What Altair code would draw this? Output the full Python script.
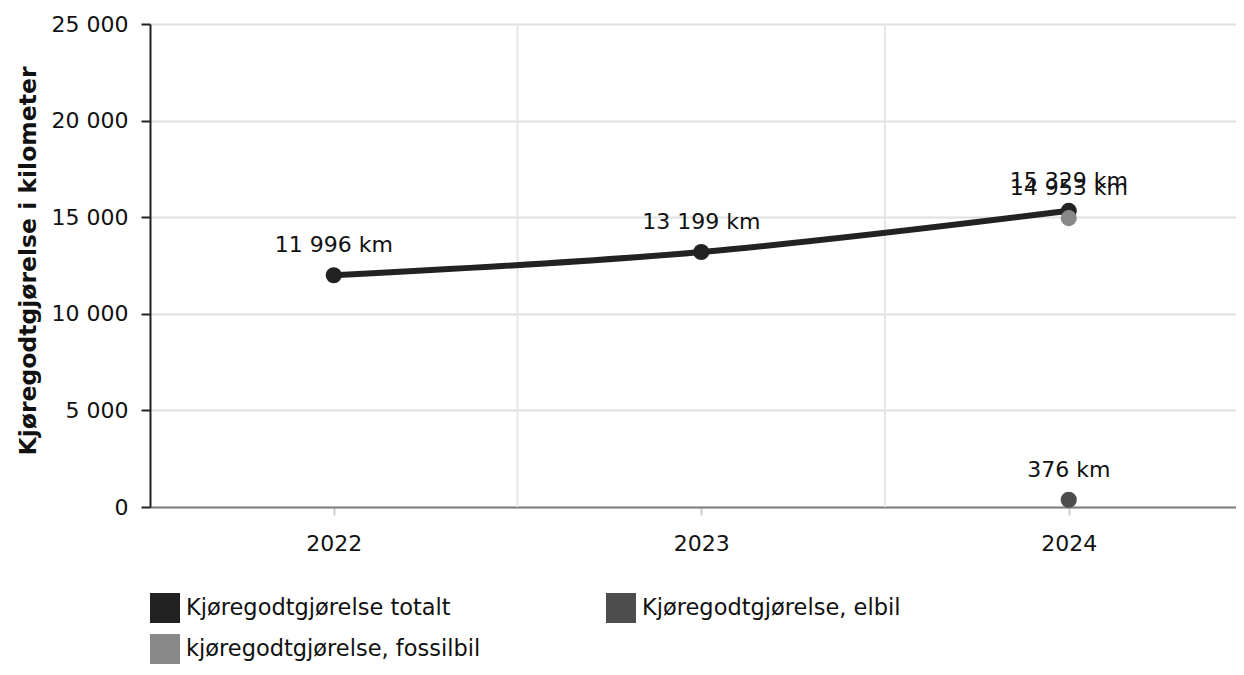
import altair as alt
import pandas as pd

FONT = "DejaVu Sans"

years = [2022, 2023, 2024]
totalt = [11996, 13199, 15329]
elbil_years = [2024]
elbil = [376]
fossil_years = [2024]
fossil = [14953]

series_names = [
    "Kjøregodtgjørelse totalt",
    "Kjøregodtgjørelse, elbil",
    "kjøregodtgjørelse, fossilbil",
]
series_colors = ["#222222", "#4d4d4d", "#888888"]
y_ticks = [0, 5000, 10000, 15000, 20000, 25000]
y_title = "Kjøregodtgjørelse i kilometer"


def km(v):
    return f"{v:,}".replace(",", " ") + " km"


rows = []
for yrs, vals, name in [
    (years, totalt, series_names[0]),
    (elbil_years, elbil, series_names[1]),
    (fossil_years, fossil, series_names[2]),
]:
    for yr, v in zip(yrs, vals):
        rows.append({"year": yr, "value": v, "series": name, "label": km(v)})
df = pd.DataFrame(rows)

grid_df = pd.DataFrame({"x": [(a + b) / 2 for a, b in zip(years[:-1], years[1:])]})

PLOT_W = 1086
PLOT_H = 483
x_scale = alt.Scale(domain=[2021.5, 2021.5 + PLOT_W / 367.5], nice=False, zero=False)
y_scale = alt.Scale(domain=[0, 25000], nice=False)

x_axis = alt.Axis(
    values=years, format="d", grid=False, title=None,
    labelFont=FONT, labelFontSize=22, labelColor="#111111",
    domainColor="#7f7f7f", domainWidth=2,
    tickColor="#cccccc", tickSize=8, tickWidth=2, labelPadding=18,
)
y_axis = alt.Axis(
    values=y_ticks, labelExpr="replace(format(datum.value, ','), ',', ' ')",
    grid=True, gridColor="#e0e0e0", gridWidth=2,
    labelFont=FONT, labelFontSize=22, labelColor="#111111",
    domainColor="#222222", domainWidth=2,
    tickColor="#222222", tickSize=9, tickWidth=2, labelPadding=13,
    title=y_title, titleFont=FONT, titleFontSize=23.5, titleFontWeight="bold",
    titleColor="#111111", titleAngle=-90, titleX=-122, titleY=236.5,
    titleAlign="center", titleBaseline="middle",
)

base = alt.Chart(df)

vgrid = alt.Chart(grid_df).mark_rule(color="#e6e6e6", strokeWidth=2).encode(
    x=alt.X("x:Q", scale=x_scale, axis=x_axis)
)

line = base.transform_filter(
    alt.datum.series == series_names[0]
).mark_line(interpolate="cardinal", strokeWidth=6, color=series_colors[0]).encode(
    x=alt.X("year:Q", scale=x_scale, axis=x_axis),
    y=alt.Y("value:Q", scale=y_scale, axis=y_axis),
)

points = base.mark_circle(size=260, opacity=1).encode(
    x=alt.X("year:Q", scale=x_scale, axis=x_axis),
    y=alt.Y("value:Q", scale=y_scale, axis=y_axis),
    color=alt.Color(
        "series:N",
        scale=alt.Scale(domain=series_names, range=series_colors),
        sort=series_names,
        legend=alt.Legend(
            title=None, orient="none", legendX=0, legendY=569,
            direction="horizontal", columns=2, columnPadding=125, rowPadding=11,
            symbolType="square", symbolSize=900, symbolStrokeWidth=0,
            symbolOpacity=1, padding=0,
            labelFont=FONT, labelFontSize=22.5, labelColor="#111111",
            labelLimit=500, labelOffset=6,
        ),
    ),
)

labels = base.mark_text(
    font=FONT, fontSize=22, color="#111111", dy=-30, baseline="middle", align="center"
).encode(
    x=alt.X("year:Q", scale=x_scale, axis=x_axis),
    y=alt.Y("value:Q", scale=y_scale, axis=y_axis),
    text="label:N",
)

chart = alt.layer(vgrid, line, points, labels).properties(
    width=PLOT_W,
    height=PLOT_H,
    autosize=alt.AutoSizeParams(type="none"),
    padding={"left": 142, "top": 16, "right": 0, "bottom": 157},
).configure_view(stroke=None).configure(background="white")

chart.save("out.html", embed_options={"renderer": "svg", "actions": False})
